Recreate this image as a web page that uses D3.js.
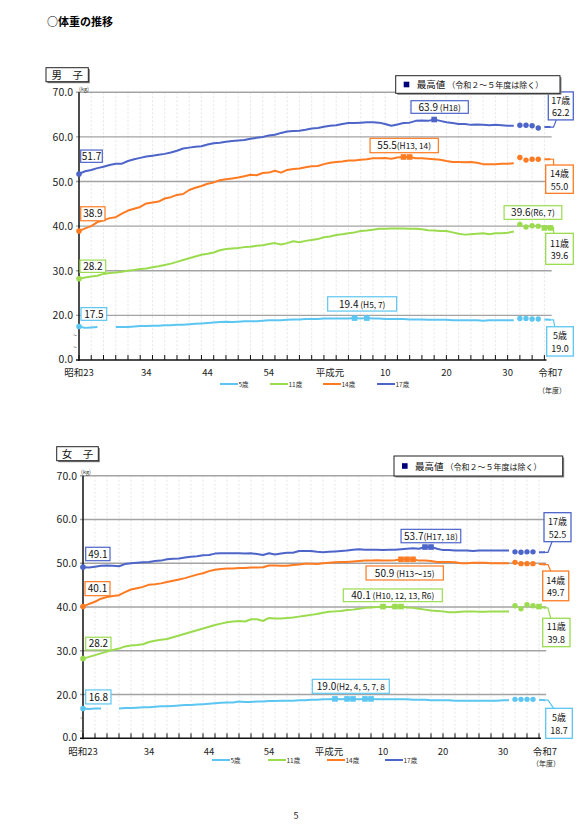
<!DOCTYPE html>
<html><head><meta charset="utf-8">
<script src="https://cdn.jsdelivr.net/npm/d3@7"></script>
<style>
html,body{margin:0;padding:0;background:#fff;}
svg{display:block;font-family:"Noto Sans CJK JP","Noto Sans",sans-serif;}
</style></head><body>
<svg id="c" width="583" height="825"></svg>
<script>
// ---------- categories ----------
const years = d3.range(1948, 2026);
const ageLabels = ["5歳", "11歳", "14歳", "17歳"];
const seriesColors = ["#5cc6f2", "#9bdc4f", "#ff7b22", "#4d64c9"];
const xTickYears = [1948, 1959, 1969, 1979, 1989, 1998, 2008, 2018, 2025];
const xTickLabels = ["昭和23", "34", "44", "54", "平成元", "10", "20", "30", "令和7"];
const yTickValues = [0, 20, 30, 40, 50, 60, 70];
const yTickLabels = ["0.0", "20.0", "30.0", "40.0", "50.0", "60.0", "70.0"];
const excludedYears = [2020, 2021, 2022, 2023];

// ---------- 男子 (kg), 1948..2025 ----------
const boys5 = [
  17.5, 17.2, 17.3, 17.4, null, null, 17.4, 17.4, 17.4, 17.5,
  17.6, 17.6, 17.7, 17.7, 17.8, 17.8, 17.9, 17.9, 18.0, 18.1,
  18.2, 18.3, 18.4, 18.5, 18.6, 18.5, 18.6, 18.7, 18.7, 18.7,
  18.8, 18.9, 18.9, 18.9, 19.0, 19.1, 19.1, 19.2, 19.2, 19.2,
  19.3, 19.3, 19.3, 19.3, 19.3, 19.4, 19.3, 19.4, 19.3, 19.3,
  19.2, 19.2, 19.2, 19.2, 19.1, 19.1, 19.1, 19.0, 19.0, 19.0,
  19.0, 18.9, 18.9, 18.9, 18.9, 18.9, 18.8, 18.9, 18.9, 18.9,
  18.9, 18.9, 19.3, 19.3, 19.2, 19.2, 19.1, 19.0];
const boys11 = [
  28.2, 28.5, 28.7, 28.9, 29.3, 29.5, 29.6, 29.8, 30.0, 30.2,
  30.4, 30.5, 30.8, 31.0, 31.3, 31.6, 32.0, 32.4, 32.8, 33.2,
  33.6, 33.8, 34.1, 34.6, 34.9, 35.0, 35.1, 35.3, 35.4, 35.6,
  35.7, 36.0, 36.2, 35.9, 36.2, 36.6, 36.4, 36.7, 36.9, 37.1,
  37.5, 37.7, 38.0, 38.2, 38.4, 38.6, 38.9, 39.0, 39.2, 39.4,
  39.4, 39.5, 39.5, 39.5, 39.4, 39.4, 39.3, 39.1, 39.0, 38.9,
  38.9, 38.6, 38.3, 38.1, 38.2, 38.3, 38.4, 38.2, 38.4, 38.4,
  38.5, 38.8, 40.4, 39.8, 40.1, 40.0, 39.6, 39.6];
const boys14 = [
  38.9, 39.5, 40.0, 40.9, 41.3, 41.8, 42.0, 42.8, 43.5, 43.9,
  44.3, 45.1, 45.3, 45.5, 46.2, 46.5, 47.0, 47.2, 48.1, 48.6,
  49.0, 49.5, 49.8, 50.3, 50.5, 50.7, 50.9, 51.2, 51.5, 51.4,
  51.9, 52.0, 52.4, 52.0, 52.6, 52.8, 52.9, 53.2, 53.4, 53.5,
  53.9, 54.2, 54.4, 54.5, 54.7, 54.7, 54.9, 55.0, 55.2, 55.2,
  55.3, 55.1, 55.4, 55.5, 55.5, 55.2, 55.2, 55.1, 55.0, 54.9,
  54.6, 54.4, 54.4, 54.3, 54.4, 54.2, 53.9, 53.9, 53.9, 54.0,
  54.0, 54.1, 55.4, 54.8, 55.0, 55.0, 55.0, 55.0];
const boys17 = [
  51.7, 52.3, 52.6, 53.0, 53.3, 53.7, 54.0, 54.0, 54.6, 55.0,
  55.3, 55.6, 55.8, 56.0, 56.2, 56.5, 56.9, 57.4, 57.6, 57.8,
  57.9, 58.3, 58.6, 58.7, 58.9, 59.1, 59.2, 59.3, 59.6, 59.8,
  60.0, 60.3, 60.5, 60.9, 61.2, 61.3, 61.4, 61.6, 61.9, 62.0,
  62.3, 62.5, 62.6, 62.9, 63.1, 63.1, 63.2, 63.3, 63.3, 63.2,
  62.9, 62.5, 62.8, 63.1, 63.2, 63.6, 63.7, 63.6, 63.9, 63.6,
  63.3, 63.1, 62.9, 62.9, 62.7, 62.8, 62.7, 62.6, 62.7, 62.6,
  62.5, 62.5, 62.6, 62.6, 62.5, 62.0, 62.2, 62.2];

// ---------- 女子 (kg), 1948..2025 ----------
const girls5 = [
  16.8, 16.7, 16.8, 16.8, null, null, 16.8, 16.9, 16.9, 17.0,
  17.1, 17.1, 17.2, 17.3, 17.3, 17.4, 17.5, 17.6, 17.6, 17.7,
  17.8, 17.9, 18.0, 18.1, 18.2, 18.2, 18.4, 18.3, 18.3, 18.4,
  18.4, 18.5, 18.5, 18.6, 18.6, 18.6, 18.7, 18.7, 18.8, 18.8,
  18.9, 18.9, 19.0, 18.9, 19.0, 19.0, 18.9, 19.0, 19.0, 18.9,
  18.9, 18.9, 18.9, 18.9, 18.9, 18.8, 18.8, 18.8, 18.7, 18.7,
  18.7, 18.7, 18.6, 18.6, 18.6, 18.6, 18.6, 18.6, 18.6, 18.6,
  18.7, 18.7, 18.9, 18.9, 18.9, 18.9, 18.8, 18.7];
const girls11 = [
  28.2, 28.6, 29.0, 29.4, 29.8, 30.2, 30.5, 31.0, 31.2, 31.3,
  31.5, 32.0, 32.3, 32.5, 32.7, 33.1, 33.5, 33.9, 34.3, 34.7,
  35.1, 35.5, 35.9, 36.2, 36.5, 36.7, 36.8, 36.7, 37.2, 37.2,
  36.8, 37.5, 37.4, 37.4, 37.5, 37.6, 37.8, 38.0, 38.2, 38.4,
  38.7, 38.9, 39.0, 39.1, 39.3, 39.4, 39.6, 39.8, 39.9, 40.0,
  40.1, 40.0, 40.1, 40.1, 39.9, 39.8, 39.6, 39.4, 39.2, 39.1,
  39.0, 38.8, 38.8, 38.9, 39.0, 39.0, 38.9, 38.9, 39.0, 39.0,
  39.0, 39.0, 40.3, 39.6, 40.5, 40.3, 40.1, 39.8];
const girls14 = [
  40.1, 40.7, 41.2, 41.9, 42.3, 42.5, 42.7, 43.4, 44.0, 44.3,
  44.6, 45.1, 45.2, 45.4, 45.7, 46.0, 46.3, 46.6, 47.0, 47.4,
  47.7, 48.2, 48.5, 48.7, 48.8, 48.8, 48.9, 48.9, 49.0, 49.0,
  49.1, 49.5, 49.5, 49.4, 49.4, 49.6, 49.7, 49.9, 49.9, 49.8,
  50.0, 50.1, 50.2, 50.3, 50.3, 50.4, 50.5, 50.6, 50.6, 50.7,
  50.6, 50.6, 50.7, 50.9, 50.9, 50.9, 50.6, 50.6, 50.5, 50.3,
  50.3, 50.3, 50.2, 50.0, 50.0, 50.1, 50.1, 50.1, 50.0, 50.0,
  50.0, 50.0, 50.2, 49.9, 49.9, 49.9, 49.8, 49.7];
const girls17 = [
  49.1, 49.0, 49.2, 49.4, 49.5, 49.4, 49.3, 49.8, 50.0, 50.1,
  50.2, 50.3, 50.5, 50.6, 50.9, 51.0, 51.1, 51.3, 51.5, 51.6,
  51.8, 51.9, 52.2, 52.3, 52.3, 52.3, 52.3, 52.2, 52.3, 52.1,
  51.9, 52.3, 52.0, 52.2, 52.4, 52.4, 52.8, 52.8, 52.8, 52.6,
  52.5, 52.6, 52.7, 52.8, 52.9, 53.1, 53.2, 53.1, 53.1, 53.1,
  53.0, 53.1, 53.1, 53.2, 53.3, 53.4, 53.3, 53.7, 53.7, 53.3,
  53.0, 53.0, 52.9, 52.9, 52.9, 52.8, 52.9, 52.9, 52.9, 52.9,
  52.9, 52.9, 52.6, 52.5, 52.6, 52.6, 52.5, 52.5];

// ---------- 最高値 ----------
const boysMaxYears = [[1993, 1995], [2024, 2025], [2001, 2002], [2006]];
const boysMaxMain = ["19.4", "39.6", "55.5", "63.9"];
const boysMaxNote = [" (H5, 7)", "(R6, 7)", "(H13, 14)", " (H18)"];
const girlsMaxYears = [[1990, 1992, 1993, 1995, 1996], [1998, 2000, 2001, 2024], [2001, 2002, 2003], [2005, 2006]];
const girlsMaxMain = ["19.0", "40.1", "50.9", "53.7"];
const girlsMaxNote = ["(H2, 4, 5, 7, 8", " (H10, 12, 13, R6)", " (H13～15)", "(H17, 18)"];

// ---------- layout (positions / sizes only) ----------
const layoutBoys = {
  L: 79, R: 550.5, T: 92.3, B: 360,
  panel: [46, 67.7, 42.3, 14], kg: [84, 91],
  legendBox: [395.7, 75.7, 164.3, 17.6],
  xLabelY: 376, nendo: [552, 393],
  legendY: 384, legendX: [220, 270, 323, 377],
  breakX: 75, breakY: [335, 347],
  maxAnchor: [1994, 2024.5, 2001.5, 2006],
  maxBox: [[1.5, -21.3, 69, 14.3], [-14.5, -22.2, 57.7, 13.6], [-2.4, -18.7, 68.3, 14.4], [5.5, -18.8, 57.3, 12.6]],
  rightBox: [[-3.8, 6.9, 26.6, 29.3], [-4.8, 5.4, 27.6, 31], [-4.8, 5.8, 27.6, 28.3], [-2.2, -35.2, 25, 28]],
  leftBox: [[2, -18.9, 25.7, 12.7], [1, -18.7, 25.7, 12.3], [1.7, -24.3, 24.3, 14], [1.7, -23.9, 21.6, 12.3]]
};
const layoutGirls = {
  L: 83, R: 545, T: 475.7, B: 738.3,
  panel: [56.7, 446.7, 41.6, 14], kg: [86, 473.5],
  legendBox: [394, 456, 168.7, 20],
  xLabelY: 755, nendo: [546, 766],
  legendY: 760, legendX: [212, 268, 327, 385],
  breakX: 82, breakY: [718, 731],
  maxAnchor: [1993, 2000, 2002, 2005.5],
  maxBox: [[-2.2, -19.6, 77, 14], [-2.2, -17.6, 99, 12.7], [-2.3, 6.7, 77.3, 14], [2.9, -17.7, 59.7, 13.4]],
  rightBox: [[0.7, 8.1, 26.6, 30], [-2.3, 10.4, 27.3, 28.4], [-2.3, 6.5, 26, 29.7], [-1, -39.6, 27, 29]],
  leftBox: [[2.7, -18.6, 25.3, 14], [2.7, -21.4, 25.3, 12.7], [2, -24.9, 25, 14], [2.7, -19.9, 24.3, 13.4]]
};

const svg = d3.select("#c");

// page title
svg.append("text").attr("x", 47).attr("y", 26).attr("font-size", 11).attr("font-weight", "bold")
  .attr("fill", "#000").text("○体重の推移");
svg.append("text").attr("x", 296).attr("y", 819).attr("font-size", 9).attr("text-anchor", "middle")
  .attr("fill", "#222").text("5");

function drawChart(title, series, maxYears, maxMain, maxNote, lay) {
  const g = svg.append("g");
  const x = d3.scaleLinear().domain([1948, 2025]).range([lay.L, lay.R]);
  const y = d3.scaleLinear().domain([0, 10, 70]).range([lay.B, lay.B, lay.T]);
  const gridRight = lay.R + 1.2;

  // vertical dashed grid every 2 years
  const tickYears = years.filter(yr => (yr - 1948) % 2 === 0);
  g.append("g").selectAll("line").data(tickYears.filter(yr => yr > 1948)).join("line")
    .attr("x1", d => x(d)).attr("x2", d => x(d)).attr("y1", lay.T).attr("y2", lay.B)
    .attr("stroke", "#dedede").attr("stroke-width", 0.8).attr("stroke-dasharray", "2,2");

  // horizontal gridlines
  g.append("g").selectAll("line").data(yTickValues.filter(v => v >= 20)).join("line")
    .attr("x1", lay.L - 3).attr("x2", gridRight).attr("y1", d => y(d)).attr("y2", d => y(d))
    .attr("stroke", "#a3a3a3").attr("stroke-width", 1.4);

  // y labels
  g.append("g").selectAll("text").data(yTickValues).join("text")
    .attr("x", lay.L - 6).attr("y", d => y(d) + (d === 0 ? 2.5 : 4)).attr("text-anchor", "end")
    .attr("font-size", 10.5).attr("fill", "#222")
    .text((d, i) => yTickLabels[i]);

  // axes
  g.append("line").attr("x1", lay.L).attr("x2", lay.L).attr("y1", lay.T).attr("y2", lay.B + 1)
    .attr("stroke", "#111").attr("stroke-width", 1.5);
  g.append("line").attr("x1", lay.L - 3).attr("x2", lay.R - 4).attr("y1", lay.B).attr("y2", lay.B)
    .attr("stroke", "#111").attr("stroke-width", 1.6);
  g.append("g").selectAll("line").data(tickYears).join("line")
    .attr("x1", d => x(d)).attr("x2", d => x(d)).attr("y1", lay.B).attr("y2", lay.B - 5)
    .attr("stroke", "#111").attr("stroke-width", 1);

  // x labels
  g.append("g").selectAll("text").data(xTickYears).join("text")
    .attr("x", d => x(d)).attr("y", lay.xLabelY).attr("text-anchor", "middle")
    .attr("font-size", 9.5).attr("fill", "#222")
    .text((d, i) => xTickLabels[i]);
  g.append("text").attr("x", lay.nendo[0]).attr("y", lay.nendo[1]).attr("text-anchor", "middle")
    .attr("font-size", 7).attr("fill", "#222").text("（年度）");

  // axis break marks
  lay.breakY.forEach(by => {
    g.append("text").attr("x", lay.breakX).attr("y", by + 2.5).attr("text-anchor", "middle")
      .attr("font-size", 7).attr("fill", "#555").text("~");
  });

  // (kg)
  g.append("text").attr("x", lay.kg[0]).attr("y", lay.kg[1]).attr("text-anchor", "middle")
    .attr("font-size", 5.5).attr("fill", "#333").text("(kg)");

  // series
  series.forEach((vals, i) => {
    const pts = years.map((yr, k) => ({ yr: yr, v: vals[k] }));
    const col = seriesColors[i];
    const line = d3.line()
      .defined(d => d.v != null && !excludedYears.includes(d.yr))
      .x(d => x(d.yr)).y(d => y(d.v));
    g.append("path").attr("d", line(pts)).attr("fill", "none")
      .attr("stroke", col).attr("stroke-width", 2).attr("stroke-linejoin", "round");
    // excluded years as dots
    g.append("g").selectAll("circle").data(pts.filter(d => excludedYears.includes(d.yr))).join("circle")
      .attr("cx", d => x(d.yr)).attr("cy", d => y(d.v)).attr("r", 2.7).attr("fill", col);
    // first point
    g.append("circle").attr("cx", x(pts[0].yr)).attr("cy", y(pts[0].v)).attr("r", 2.8).attr("fill", col);
    // max markers
    g.append("g").selectAll("rect").data(pts.filter(d => maxYears[i].includes(d.yr))).join("rect")
      .attr("x", d => x(d.yr) - 2.8).attr("y", d => y(d.v) - 2.8)
      .attr("width", 5.6).attr("height", 5.6).attr("fill", col);
  });

  // annotations
  series.forEach((vals, i) => {
    const col = seriesColors[i];
    const first = vals[0];
    const last = vals[vals.length - 1];
    const lastYear = years[years.length - 1];

    // left start label
    const lb = lay.leftBox[i];
    const lx = lay.L + lb[0], ly = y(first) + lb[1];
    g.append("rect").attr("x", lx).attr("y", ly).attr("width", lb[2]).attr("height", lb[3])
      .attr("fill", "#fff").attr("stroke", col).attr("stroke-width", 1.2);
    g.append("text").attr("x", lx + lb[2] / 2).attr("y", ly + lb[3] / 2 + 3.6).attr("text-anchor", "middle")
      .attr("font-size", 10).attr("fill", "#111").text(d3.format(".1f")(first));

    // max label
    const mb = lay.maxBox[i];
    const mcx = x(lay.maxAnchor[i]) + mb[0];
    const maxVal = d3.max(vals.filter((v, k) => maxYears[i].includes(years[k])));
    const my = y(maxVal) + mb[1];
    g.append("rect").attr("x", mcx - mb[2] / 2).attr("y", my).attr("width", mb[2]).attr("height", mb[3])
      .attr("fill", "#fff").attr("stroke", col).attr("stroke-width", 1.2);
    const mt = g.append("text").attr("x", mcx).attr("y", my + mb[3] / 2 + 3.6).attr("text-anchor", "middle")
      .attr("font-size", 10).attr("fill", "#111");
    mt.append("tspan").text(maxMain[i]);
    mt.append("tspan").attr("font-size", 8.3).text(maxNote[i]);

    // right label with leader
    const rb = lay.rightBox[i];
    const px = x(lastYear), py = y(last);
    const bx = px + rb[0], by = py + rb[1];
    const edge = rb[1] < 0 ? by + rb[3] : by;
    g.append("path").attr("d", `M${px - 1},${py} L${px + 3},${py} L${bx + 8},${edge}`)
      .attr("fill", "none").attr("stroke", col).attr("stroke-width", 1.2);
    g.append("rect").attr("x", bx).attr("y", by).attr("width", rb[2]).attr("height", rb[3])
      .attr("fill", "#fff").attr("stroke", col).attr("stroke-width", 1.3);
    g.append("text").attr("x", bx + rb[2] / 2).attr("y", by + rb[3] / 2 - 2.2).attr("text-anchor", "middle")
      .attr("font-size", 9).attr("fill", "#111").text(ageLabels[i]);
    g.append("text").attr("x", bx + rb[2] / 2).attr("y", by + rb[3] / 2 + 10.5).attr("text-anchor", "middle")
      .attr("font-size", 9).attr("fill", "#111").text(d3.format(".1f")(last));
  });

  // bottom legend
  ageLabels.forEach((lbl, i) => {
    const lx = lay.legendX[i];
    g.append("line").attr("x1", lx).attr("x2", lx + 18).attr("y1", lay.legendY).attr("y2", lay.legendY)
      .attr("stroke", seriesColors[i]).attr("stroke-width", 2);
    g.append("text").attr("x", lx + 18.5).attr("y", lay.legendY + 2.5).attr("font-size", 6.5)
      .attr("fill", "#333").text(lbl);
  });

  // panel title box
  const p = lay.panel;
  g.append("rect").attr("x", p[0] + 1.5).attr("y", p[1] + 1.5).attr("width", p[2]).attr("height", p[3]).attr("fill", "#777");
  g.append("rect").attr("x", p[0]).attr("y", p[1]).attr("width", p[2]).attr("height", p[3])
    .attr("fill", "#fff").attr("stroke", "#222").attr("stroke-width", 1);
  g.append("text").attr("x", p[0] + p[2] / 2).attr("y", p[1] + p[3] / 2 + 3.8).attr("text-anchor", "middle")
    .attr("font-size", 10.5).attr("fill", "#111").text(title);

  // 最高値 legend box
  const b = lay.legendBox;
  g.append("rect").attr("x", b[0] + 1.5).attr("y", b[1] + 1.5).attr("width", b[2]).attr("height", b[3]).attr("fill", "#888");
  g.append("rect").attr("x", b[0]).attr("y", b[1]).attr("width", b[2]).attr("height", b[3])
    .attr("fill", "#fff").attr("stroke", "#222").attr("stroke-width", 1);
  g.append("rect").attr("x", b[0] + 8).attr("y", b[1] + b[3] / 2 - 2.8).attr("width", 5.6).attr("height", 5.6).attr("fill", "#00007a");
  const lt = g.append("text").attr("x", b[0] + 21).attr("y", b[1] + b[3] / 2 + 3.5)
    .attr("font-size", 9.5).attr("fill", "#111");
  lt.append("tspan").text("最高値");
  lt.append("tspan").attr("font-size", 8).attr("dx", 2).text("（令和２～５年度は除く）");
}

drawChart("男　子", [boys5, boys11, boys14, boys17], boysMaxYears, boysMaxMain, boysMaxNote, layoutBoys);
drawChart("女　子", [girls5, girls11, girls14, girls17], girlsMaxYears, girlsMaxMain, girlsMaxNote, layoutGirls);
</script>
</body></html>
